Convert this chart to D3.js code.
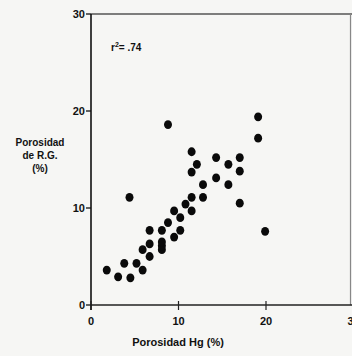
<!DOCTYPE html>
<html>
<head>
<meta charset="utf-8">
<script src="https://cdn.jsdelivr.net/npm/d3@7"></script>
<style>
  body { margin: 0; background: #f6f6f4; }
  svg { display: block; }
  text { font-family: "Liberation Sans", Arial, sans-serif; font-weight: bold; fill: #111; }
</style>
</head>
<body>
<div id="chart"></div>
<script>
// porosidad Hg (x) vs porosidad de R.G. (y)
var hgPorosity = [1.8, 3.1, 3.8, 4.5, 4.4, 5.2, 5.9, 5.9, 6.7, 6.7, 6.7, 8.1, 8.1, 8.1, 8.1,
                  8.8, 8.8, 9.5, 9.5, 10.2, 10.2, 10.8, 11.5, 11.5, 11.5, 11.5, 12.1, 12.8, 12.8,
                  14.3, 14.3, 15.7, 15.7, 17.0, 17.0, 17.0, 19.1, 19.1, 19.9];
var rgPorosity = [3.6, 2.9, 4.3, 2.8, 11.1, 4.3, 3.6, 5.7, 5.0, 6.3, 7.7, 5.7, 6.1, 6.5, 7.7,
                  18.6, 8.5, 7.0, 9.7, 7.7, 9.0, 10.4, 15.8, 13.7, 11.1, 9.7, 14.5, 12.4, 11.1,
                  15.2, 13.1, 14.5, 12.4, 15.2, 13.8, 10.5, 19.4, 17.2, 7.6];
var xTicks = [0, 10, 20, 30];
var yTicks = [0, 10, 20, 30];
var yTitle = ["Porosidad", "de  R.G.", "(%)"];
var xTitle = "Porosidad Hg (%)";

var width = 352, height = 356;

var svg = d3.select("#chart").append("svg")
    .attr("width", width)
    .attr("height", height);

var x = d3.scaleLinear().domain([0, 30]).range([91, 353.5]);
var y = d3.scaleLinear().domain([0, 30]).range([305, 14]);

// frame
svg.append("line")
    .attr("x1", x(0)).attr("x2", width).attr("y1", y(30)).attr("y2", y(30))
    .attr("stroke", "#555").attr("stroke-width", 1.5);
svg.append("line")
    .attr("x1", 350.5).attr("x2", 350.5).attr("y1", y(30)).attr("y2", y(0))
    .attr("stroke", "#888").attr("stroke-width", 1.2);
svg.append("line")
    .attr("x1", x(0)).attr("x2", width).attr("y1", y(0)).attr("y2", y(0))
    .attr("stroke", "#222").attr("stroke-width", 1.5);
svg.append("line")
    .attr("x1", x(0)).attr("x2", x(0)).attr("y1", y(30)).attr("y2", y(0) + 5)
    .attr("stroke", "#111").attr("stroke-width", 1.6);

// y ticks + labels
yTicks.forEach(function(t) {
  svg.append("line")
    .attr("x1", x(0) - 5).attr("x2", x(0)).attr("y1", y(t)).attr("y2", y(t))
    .attr("stroke", "#111").attr("stroke-width", 1.3);
  svg.append("text")
    .attr("x", x(0) - 6).attr("y", y(t) + 4)
    .attr("text-anchor", "end")
    .attr("font-size", 11)
    .text(t);
});

// x ticks + labels
xTicks.forEach(function(t) {
  svg.append("line")
    .attr("x1", x(t)).attr("x2", x(t)).attr("y1", y(0) - 4).attr("y2", y(0) + 5)
    .attr("stroke", "#222").attr("stroke-width", 1.2);
  svg.append("text")
    .attr("x", x(t)).attr("y", y(0) + 20)
    .attr("text-anchor", "middle")
    .attr("font-size", 11)
    .text(t);
});

// axis titles
svg.append("text")
    .attr("x", 178).attr("y", 346)
    .attr("text-anchor", "middle")
    .attr("font-size", 11)
    .text(xTitle);

yTitle.forEach(function(s, i) {
  svg.append("text")
    .attr("x", 40).attr("y", 146 + i * 13)
    .attr("text-anchor", "middle")
    .attr("font-size", 10)
    .text(s);
});

// r squared note
var note = svg.append("text")
    .attr("x", 111).attr("y", 51)
    .attr("font-size", 10);
note.append("tspan").text("r");
note.append("tspan").attr("dy", -4).attr("font-size", 7).text("2");
note.append("tspan").attr("dy", 4).text("= .74");

// points
var pts = hgPorosity.map(function(v, i) { return [v, rgPorosity[i]]; });
svg.selectAll("ellipse.pt")
    .data(pts)
    .enter()
    .append("ellipse")
      .attr("class", "pt")
      .attr("cx", function(d) { return x(d[0]); })
      .attr("cy", function(d) { return y(d[1]); })
      .attr("rx", 4)
      .attr("ry", 4.4)
      .attr("fill", "#0a0a0a");
</script>
</body>
</html>
